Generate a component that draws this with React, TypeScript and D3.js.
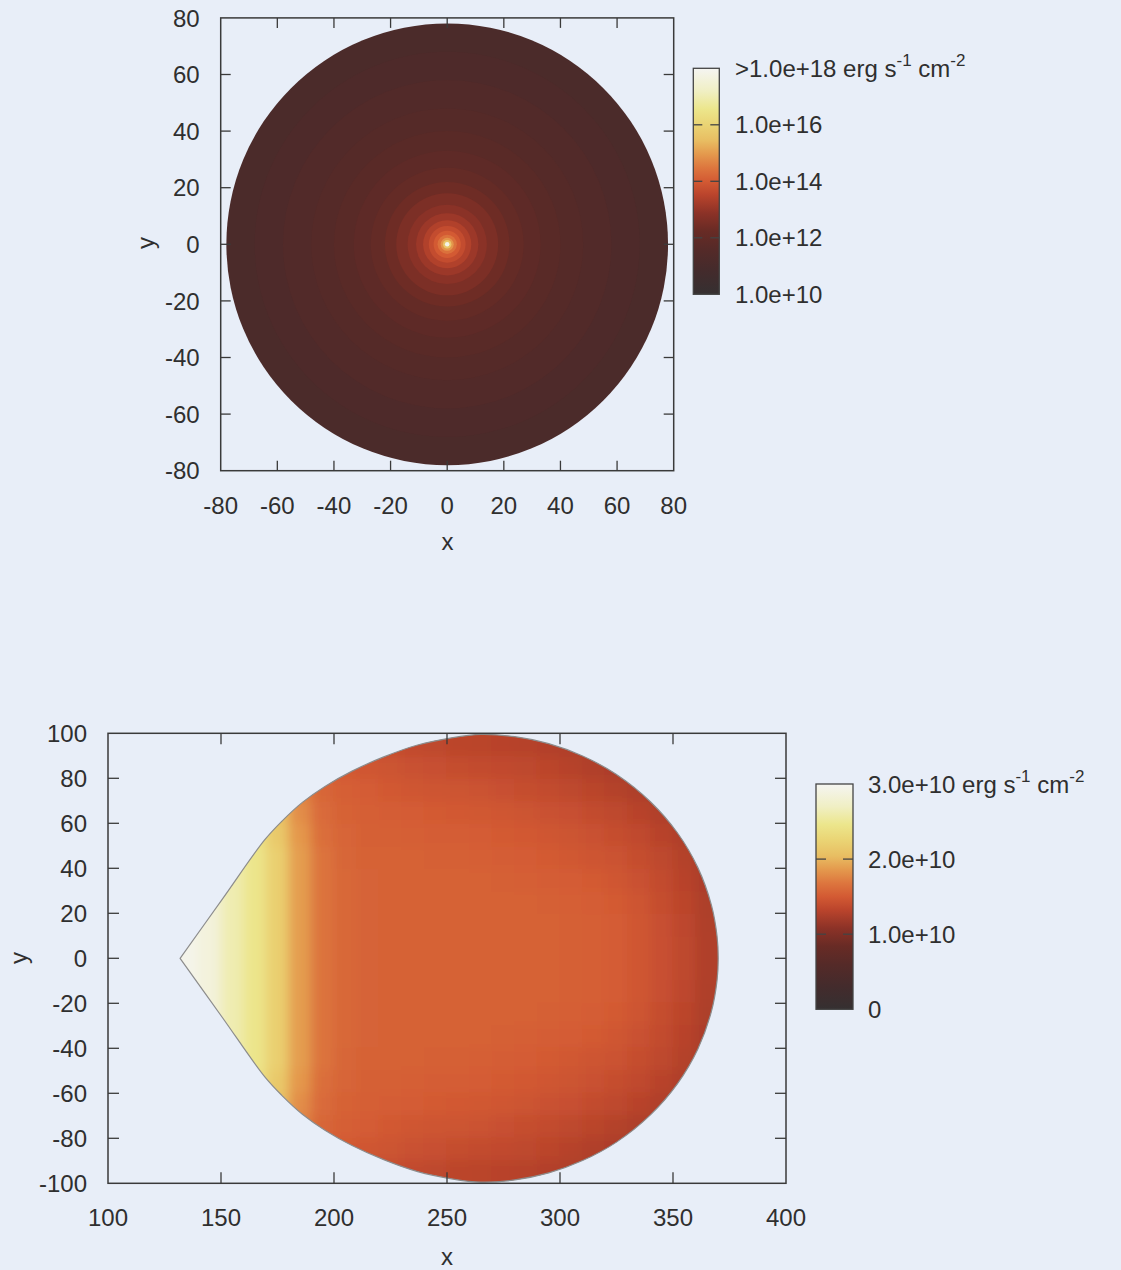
import React from 'react';
import * as d3 from 'd3';

// ---------- palette (fraction of colour range -> colour) ----------
const paletteT = [0, 0.1, 0.2, 0.28, 0.36, 0.44, 0.5, 0.56, 0.62, 0.68, 0.75, 0.82, 0.9, 1];
const paletteColors = ['#353031', '#432b2c', '#552a28', '#682b25', '#8c3227', '#ba442c', '#d35a33', '#dd763e', '#e4994d', '#e8bd62', '#ead474', '#ece68c', '#f0efc4', '#f5f5f2'];

// ---------- top panel ----------
const topXTicks = [-80, -60, -40, -20, 0, 20, 40, 60, 80];
const topYTicks = [-80, -60, -40, -20, 0, 20, 40, 60, 80];
// concentric bands: outer radius and log10 flux (erg s^-1 cm^-2)
const topRingRadius = [78, 68, 58, 48, 40, 33, 27, 22, 18, 14, 11, 8.5, 6.5, 4.8, 3.4, 2.3, 1.5, 0.8];
const topRingLogFlux = [11.15, 11.3, 11.45, 11.6, 11.75, 11.9, 12.1, 12.35, 12.6, 12.85, 13.1, 13.4, 13.7, 14.0, 14.4, 14.9, 15.6, 17.8];
const topCbTicks = [10, 12, 14, 16, 18];
const topCbLabels = ['1.0e+10', '1.0e+12', '1.0e+14', '1.0e+16', '>1.0e+18'];

// ---------- bottom panel ----------
const botXTicks = [100, 150, 200, 250, 300, 350, 400];
const botYTicks = [-100, -80, -60, -40, -20, 0, 20, 40, 60, 80, 100];
const botColX = [135, 145, 155, 165, 175, 185, 195, 205, 215, 225, 235, 245, 255, 265, 275, 285, 295, 305, 315, 325, 335, 345, 355, 365];
const botRowY = [5, 15, 25, 35, 45, 55, 65, 75, 85, 95];
// flux in units of 1e10 erg s^-1 cm^-2 (rows |y|, columns x), symmetric in y
const botFlux = [
  [2.95, 2.85, 2.62, 2.45, 2.2, 1.88, 1.66, 1.59, 1.56, 1.55, 1.55, 1.55, 1.55, 1.55, 1.55, 1.55, 1.55, 1.54, 1.53, 1.51, 1.47, 1.42, 1.35, 1.27],
  [2.95, 2.85, 2.62, 2.45, 2.2, 1.88, 1.66, 1.59, 1.56, 1.55, 1.55, 1.55, 1.55, 1.55, 1.55, 1.55, 1.55, 1.54, 1.53, 1.51, 1.47, 1.41, 1.34, 1.26],
  [2.95, 2.85, 2.62, 2.45, 2.2, 1.88, 1.66, 1.59, 1.56, 1.55, 1.55, 1.55, 1.55, 1.55, 1.55, 1.55, 1.54, 1.53, 1.52, 1.5, 1.46, 1.4, 1.33, 1.25],
  [2.95, 2.85, 2.62, 2.45, 2.2, 1.88, 1.66, 1.59, 1.56, 1.55, 1.55, 1.55, 1.55, 1.55, 1.54, 1.53, 1.52, 1.51, 1.5, 1.47, 1.43, 1.38, 1.31, 1.24],
  [2.95, 2.85, 2.62, 2.45, 2.2, 1.88, 1.66, 1.58, 1.55, 1.55, 1.55, 1.54, 1.54, 1.53, 1.52, 1.51, 1.5, 1.48, 1.46, 1.44, 1.4, 1.35, 1.29, 1.23],
  [2.9, 2.8, 2.6, 2.42, 2.15, 1.85, 1.63, 1.57, 1.54, 1.54, 1.53, 1.52, 1.52, 1.51, 1.5, 1.49, 1.47, 1.45, 1.43, 1.4, 1.36, 1.31, 1.26, 1.22],
  [2.85, 2.75, 2.55, 2.38, 2.1, 1.8, 1.61, 1.55, 1.53, 1.52, 1.51, 1.5, 1.49, 1.48, 1.47, 1.45, 1.43, 1.41, 1.38, 1.35, 1.31, 1.27, 1.23, 1.2],
  [2.8, 2.7, 2.5, 2.3, 2.0, 1.74, 1.58, 1.53, 1.51, 1.49, 1.47, 1.46, 1.45, 1.44, 1.42, 1.4, 1.38, 1.35, 1.32, 1.29, 1.25, 1.22, 1.2, 1.2],
  [2.7, 2.6, 2.4, 2.2, 1.9, 1.67, 1.53, 1.49, 1.47, 1.45, 1.43, 1.41, 1.39, 1.38, 1.37, 1.35, 1.33, 1.3, 1.27, 1.24, 1.21, 1.2, 1.2, 1.2],
  [2.6, 2.5, 2.3, 2.1, 1.8, 1.62, 1.48, 1.44, 1.42, 1.39, 1.37, 1.35, 1.33, 1.32, 1.31, 1.3, 1.28, 1.26, 1.23, 1.21, 1.2, 1.2, 1.2, 1.2],
];
// upper half of the emitting region outline (mirrored for y < 0)
const botOutlineX = [131.9, 150.6, 169.3, 177, 186, 196, 208, 222, 237, 252, 265, 280, 295, 310, 325, 340, 352, 361, 367, 369.5, 370];
const botOutlineY = [0, 26.3, 52.6, 61, 69.3, 76.4, 83.2, 89.5, 94.8, 98, 99.5, 98.5, 95.4, 89.9, 81.7, 69.6, 55.7, 40.3, 23.6, 9.7, 0];
const botCbTicks = [0, 1, 2, 3];
const botCbLabels = ['0', '1.0e+10', '2.0e+10', '3.0e+10'];

const FONT = '"Liberation Sans", Arial, Helvetica, sans-serif';
const TXT = '#2f2f2f';
const AX = '#3a3a3a';

export default function App() {
  const pal = d3.scaleLinear<string>().domain(paletteT).range(paletteColors).interpolate(d3.interpolateRgb).clamp(true);

  const xT = d3.scaleLinear().domain([-80, 80]).range([220.7, 673.7]);
  const yT = d3.scaleLinear().domain([-80, 80]).range([470.7, 17.9]);
  const tTop = d3.scaleLinear().domain([10, 18]).range([0, 1]);
  const cbTopY = d3.scaleLinear().domain([10, 18]).range([294.3, 68.3]);

  const xB = d3.scaleLinear().domain([100, 400]).range([108, 786]);
  const yB = d3.scaleLinear().domain([-100, 100]).range([1183.3, 733.3]);
  const tBot = d3.scaleLinear().domain([0, 3]).range([0, 1]);
  const cbBotY = d3.scaleLinear().domain([0, 3]).range([1009.3, 784]);

  // outline path
  const n = botOutlineX.length;
  const pts: [number, number][] = [];
  for (let i = 0; i < n; i++) pts.push([botOutlineX[i], botOutlineY[i]]);
  for (let i = n - 2; i >= 0; i--) pts.push([botOutlineX[i], -botOutlineY[i]]);
  const outline = d3.line<[number, number]>()
    .x(d => xB(d[0]))
    .y(d => yB(d[1]))
    .curve(d3.curveCatmullRom.alpha(0.5))(pts) + 'Z';

  // heat cells
  const cells: JSX.Element[] = [];
  botRowY.forEach((yc, ri) => {
    botColX.forEach((xc, ci) => {
      const v = botFlux[ri][ci];
      const x0 = ci === 0 ? xc - 15 : xc - 5;
      const x1 = ci === botColX.length - 1 ? xc + 15 : xc + 5;
      const yTop = ri === botRowY.length - 1 ? yc + 15 : yc + 5;
      [1, -1].forEach(s => {
        const ya = s > 0 ? yTop : -(yc - 5);
        const yb = s > 0 ? yc - 5 : -yTop;
        cells.push(
          <rect key={`c${ri}-${ci}-${s}`}
            x={xB(x0) - 0.5} width={xB(x1) - xB(x0) + 1}
            y={yB(ya) - 0.5} height={yB(yb) - yB(ya) + 1}
            fill={pal(tBot(v))} />
        );
      });
    });
  });

  const tickLen = 10;
  const tickLenB = 11;

  const gradStops = paletteT.map((t, i) => (
    <stop key={i} offset={`${t * 100}%`} stopColor={paletteColors[i]} />
  ));

  const topInner = topXTicks.slice(1, -1);
  const botXInner = botXTicks.slice(1, -1);
  const botYInner = botYTicks.slice(1, -1);

  return (
    <svg width={1121} height={1270} style={{ position: 'absolute', left: 0, top: 0 }} fontFamily={FONT}>
      <defs>
        <linearGradient id="cbGrad" x1="0" y1="1" x2="0" y2="0">{gradStops}</linearGradient>
        <clipPath id="botClip"><path d={outline} /></clipPath>
        <filter id="soft" x="-10%" y="-10%" width="120%" height="120%">
          <feGaussianBlur stdDeviation="6" />
        </filter>
      </defs>
      <rect x={0} y={0} width={1121} height={1270} fill="#e8eef8" />

      {/* ===== TOP PANEL ===== */}
      <g>
        {topRingRadius.map((r, i) => (
          <circle key={i} cx={xT(0)} cy={yT(0)} r={xT(r) - xT(0)} fill={pal(tTop(topRingLogFlux[i]))} />
        ))}
        <rect x={xT(-80)} y={yT(80)} width={xT(80) - xT(-80)} height={yT(-80) - yT(80)} fill="none" stroke={AX} strokeWidth={1.5} />
        {topInner.map(v => (
          <g key={`tx${v}`} stroke={AX} strokeWidth={1.3}>
            <line x1={xT(v)} x2={xT(v)} y1={yT(-80)} y2={yT(-80) - tickLen} />
            <line x1={xT(v)} x2={xT(v)} y1={yT(80)} y2={yT(80) + tickLen} />
            <line y1={yT(v)} y2={yT(v)} x1={xT(-80)} x2={xT(-80) + tickLen} />
            <line y1={yT(v)} y2={yT(v)} x1={xT(80)} x2={xT(80) - tickLen} />
          </g>
        ))}
        {topXTicks.map(v => (
          <text key={`lx${v}`} x={xT(v)} y={yT(-80) + 43} textAnchor="middle" fontSize={24} fill={TXT}>{v}</text>
        ))}
        {topYTicks.map(v => (
          <text key={`ly${v}`} x={xT(-80) - 21} y={yT(v) + 8.6} textAnchor="end" fontSize={24} fill={TXT}>{v}</text>
        ))}
        <text x={447.5} y={550} textAnchor="middle" fontSize={24} fill={TXT}>x</text>
        <text transform="translate(154,243) rotate(-90)" textAnchor="middle" fontSize={24} fill={TXT}>y</text>

        {/* colour bar */}
        <rect x={693.3} y={cbTopY(18)} width={26} height={cbTopY(10) - cbTopY(18)} fill="url(#cbGrad)" stroke="#444" strokeWidth={1.3} />
        {topCbTicks.slice(1, -1).map(v => (
          <g key={`ct${v}`} stroke="#444" strokeWidth={1.3}>
            <line x1={693.3} x2={693.3 + 9} y1={cbTopY(v)} y2={cbTopY(v)} />
            <line x1={719.3} x2={719.3 - 9} y1={cbTopY(v)} y2={cbTopY(v)} />
          </g>
        ))}
        {topCbTicks.map((v, i) => (
          i === topCbTicks.length - 1 ? (
            <text key={`cl${v}`} x={735} y={cbTopY(v) + 8.6} fontSize={24} fill={TXT}>
              <tspan>{topCbLabels[i]} erg s</tspan>
              <tspan dy={-11} fontSize={17}>-1</tspan>
              <tspan dy={11}> cm</tspan>
              <tspan dy={-11} fontSize={17}>-2</tspan>
            </text>
          ) : (
            <text key={`cl${v}`} x={735} y={cbTopY(v) + 8.6} fontSize={24} fill={TXT}>{topCbLabels[i]}</text>
          )
        ))}
      </g>

      {/* ===== BOTTOM PANEL ===== */}
      <g>
        <g clipPath="url(#botClip)">
          <g filter="url(#soft)">{cells}</g>
        </g>
        <path d={outline} fill="none" stroke="#8c8c8c" strokeWidth={1.2} />
        <rect x={xB(100)} y={yB(100)} width={xB(400) - xB(100)} height={yB(-100) - yB(100)} fill="none" stroke={AX} strokeWidth={1.5} />
        {botXInner.map(v => (
          <g key={`bx${v}`} stroke={AX} strokeWidth={1.3}>
            <line x1={xB(v)} x2={xB(v)} y1={yB(-100)} y2={yB(-100) - tickLenB} />
            <line x1={xB(v)} x2={xB(v)} y1={yB(100)} y2={yB(100) + tickLenB} />
          </g>
        ))}
        {botYInner.map(v => (
          <g key={`by${v}`} stroke={AX} strokeWidth={1.3}>
            <line y1={yB(v)} y2={yB(v)} x1={xB(100)} x2={xB(100) + tickLenB} />
            <line y1={yB(v)} y2={yB(v)} x1={xB(400)} x2={xB(400) - tickLenB} />
          </g>
        ))}
        {botXTicks.map(v => (
          <text key={`blx${v}`} x={xB(v)} y={yB(-100) + 43} textAnchor="middle" fontSize={24} fill={TXT}>{v}</text>
        ))}
        {botYTicks.map(v => (
          <text key={`bly${v}`} x={xB(100) - 21} y={yB(v) + 8.6} textAnchor="end" fontSize={24} fill={TXT}>{v}</text>
        ))}
        <text x={447} y={1265} textAnchor="middle" fontSize={24} fill={TXT}>x</text>
        <text transform="translate(27,958) rotate(-90)" textAnchor="middle" fontSize={24} fill={TXT}>y</text>

        <rect x={816} y={cbBotY(3)} width={37} height={cbBotY(0) - cbBotY(3)} fill="url(#cbGrad)" stroke="#444" strokeWidth={1.3} />
        {botCbTicks.slice(1, -1).map(v => (
          <g key={`bct${v}`} stroke="#444" strokeWidth={1.3}>
            <line x1={816} x2={816 + 10} y1={cbBotY(v)} y2={cbBotY(v)} />
            <line x1={853} x2={853 - 10} y1={cbBotY(v)} y2={cbBotY(v)} />
          </g>
        ))}
        {botCbTicks.map((v, i) => (
          i === botCbTicks.length - 1 ? (
            <text key={`bcl${v}`} x={868} y={cbBotY(v) + 8.6} fontSize={24} fill={TXT}>
              <tspan>{botCbLabels[i]} erg s</tspan>
              <tspan dy={-11} fontSize={17}>-1</tspan>
              <tspan dy={11}> cm</tspan>
              <tspan dy={-11} fontSize={17}>-2</tspan>
            </text>
          ) : (
            <text key={`bcl${v}`} x={868} y={cbBotY(v) + 8.6} fontSize={24} fill={TXT}>{botCbLabels[i]}</text>
          )
        ))}
      </g>
    </svg>
  );
}
